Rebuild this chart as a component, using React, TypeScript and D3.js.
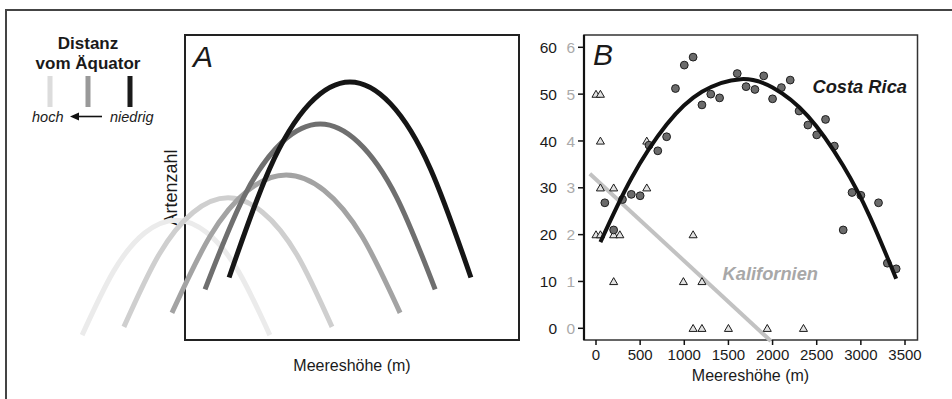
import React from "react";
import * as d3 from "d3";

// ---------- Panel A: schematic richness curves (relative units 0..100) ----------
const A_LIGHTEST: [number, number][] = [[-30.8, 1.6], [-21.4, 22.5], [-12.1, 35.1], [-2.7, 39.3], [6.7, 35.1], [16.0, 22.5], [25.4, 1.6]];
const A_LIGHT: [number, number][] = [[-18.3, 4.3], [-7.9, 27.8], [2.5, 41.9], [12.9, 46.6], [23.2, 41.9], [33.6, 27.8], [44.0, 4.3]];
const A_MID: [number, number][] = [[-3.9, 8.9], [7.5, 34.0], [18.9, 49.1], [30.3, 54.1], [41.6, 49.1], [53.0, 34.0], [64.4, 8.9]];
const A_DARK: [number, number][] = [[6.0, 16.6], [17.5, 46.7], [29.0, 64.8], [40.5, 70.8], [51.9, 64.8], [63.4, 46.7], [74.9, 16.6]];
const A_BLACK: [number, number][] = [[13.2, 20.5], [25.3, 56.1], [37.3, 77.5], [49.4, 84.6], [61.5, 77.5], [73.5, 56.1], [85.6, 20.5]];
const A_CURVES = [A_LIGHTEST, A_LIGHT, A_MID, A_DARK, A_BLACK];
const A_COLORS = ["#ebebeb", "#cfcfcf", "#a3a3a3", "#6f6f6f", "#151515"];

// Legend bars (hoch -> niedrig)
const LEGEND_COLORS = ["#dcdcdc", "#999999", "#1a1a1a"];

// ---------- Panel B: Costa Rica (left axis) ----------
const CR_ELEV = [100, 200, 300, 400, 500, 600, 700, 800, 900, 1000, 1100, 1200, 1300, 1400, 1600, 1700, 1800, 1900, 2000, 2100, 2200, 2300, 2400, 2500, 2600, 2700, 2800, 2900, 3000, 3200, 3300, 3400];
const CR_SPECIES = [26.8, 21.0, 27.5, 28.6, 28.3, 39.1, 37.9, 40.9, 51.2, 56.2, 57.9, 47.7, 50.0, 49.2, 54.4, 51.6, 51.0, 53.9, 49.0, 51.4, 53.0, 46.4, 43.4, 41.3, 44.6, 38.9, 21.0, 29.0, 28.4, 26.8, 13.9, 12.7];
const CR_FIT_ELEV = [50, 400, 800, 1200, 1640, 2000, 2400, 2800, 3100, 3400];
const CR_FIT_SPECIES = [18.4, 32.0, 43.5, 50.5, 53.2, 51.4, 45.3, 34.7, 23.9, 10.6];

// ---------- Panel B: Kalifornien (right-hand grey scale) ----------
const KA_ELEV = [0, 50, 50, 575, 50, 200, 575, 0, 50, 200, 270, 1100, 200, 990, 1200, 1100, 1200, 1500, 1940, 2350];
const KA_SPECIES = [5, 5, 4, 4, 3, 3, 3, 2, 2, 2, 2, 2, 1, 1, 1, 0, 0, 0, 0, 0];
const KA_FIT_ELEV = [-70, 1980];
const KA_FIT_SPECIES = [3.3, -0.27];

const X_TICKS = [0, 500, 1000, 1500, 2000, 2500, 3000, 3500];
const Y_TICKS = [0, 10, 20, 30, 40, 50, 60];
const Y2_TICKS = [0, 1, 2, 3, 4, 5, 6];

const FONT = "'Liberation Sans', Arial, Helvetica, sans-serif";

export default function App() {
  // Panel A geometry
  const aLeft = 185, aRight = 519, aTop = 35, aBottom = 340;
  const ax = d3.scaleLinear().domain([0, 100]).range([aLeft, aRight]);
  const ay = d3.scaleLinear().domain([0, 100]).range([aBottom, aTop]);
  const aLine = d3
    .line<[number, number]>()
    .x((d) => ax(d[0]))
    .y((d) => ay(d[1]))
    .curve(d3.curveNatural);

  // Panel B geometry
  const bLeft = 584, bRight = 917.5, bTop = 35, bBottom = 340;
  const bx = d3.scaleLinear().domain([0, 3500]).range([596, 905]);
  const by = d3.scaleLinear().domain([0, 60]).range([328.3, 47.3]);
  const by2 = d3.scaleLinear().domain([0, 6]).range([328.3, 47.3]);

  const crFit = d3
    .line<number>()
    .x((_, i) => bx(CR_FIT_ELEV[i]))
    .y((d) => by(d))
    .curve(d3.curveNatural)(CR_FIT_SPECIES);
  const kaFit = d3
    .line<number>()
    .x((_, i) => bx(KA_FIT_ELEV[i]))
    .y((d) => by2(d))(KA_FIT_SPECIES);
  const tri = d3.symbol().type(d3.symbolTriangle).size(28)();

  const legendX = [50, 88, 130];

  return (
    <svg
      width={952}
      height={399}
      style={{ position: "absolute", left: 0, top: 0, background: "#fff" }}
      fontFamily={FONT}
    >
      {/* outer frame */}
      <path d="M6,399 V10 H952" fill="none" stroke="#444" strokeWidth={2} />

      {/* ---- legend ---- */}
      <text x={88} y={49} textAnchor="middle" fontSize={17} fontWeight="bold" fill="#1a1a1a">Distanz</text>
      <text x={88} y={68.5} textAnchor="middle" fontSize={17} fontWeight="bold" fill="#1a1a1a">vom Äquator</text>
      {LEGEND_COLORS.map((c, i) => (
        <rect key={i} x={legendX[i] - 2.5} y={76} width={5} height={31} fill={c} />
      ))}
      <text x={32} y={121.5} fontSize={14.5} fontStyle="italic" fill="#1a1a1a">hoch</text>
      <line x1={102} y1={116.5} x2={76} y2={116.5} stroke="#111" strokeWidth={1.6} />
      <path d="M70,116.5 L79,112.5 L79,120.5 Z" fill="#111" />
      <text x={110} y={121.5} fontSize={14.5} fontStyle="italic" fill="#1a1a1a">niedrig</text>

      {/* ---- panel A ---- */}
      <rect x={aLeft} y={aTop} width={aRight - aLeft} height={aBottom - aTop} fill="none" stroke="#222" strokeWidth={2} />
      <text x={193} y={67} fontSize={30} fontStyle="italic" fill="#1a1a1a">A</text>
      <text
        transform={`translate(177,${(aTop + aBottom) / 2}) rotate(-90)`}
        textAnchor="middle"
        fontSize={18}
        fill="#1a1a1a"
      >
        Artenzahl
      </text>
      {A_CURVES.map((pts, i) => (
        <path key={i} d={aLine(pts) ?? ""} fill="none" stroke={A_COLORS[i]} strokeWidth={5} />
      ))}
      <text x={(aLeft + aRight) / 2} y={371} textAnchor="middle" fontSize={16} fill="#1a1a1a">Meereshöhe (m)</text>

      {/* ---- panel B ---- */}
      <rect x={bLeft} y={bTop} width={bRight - bLeft} height={bBottom - bTop} fill="none" stroke="#333" strokeWidth={1.5} />
      <line x1={bLeft} y1={bTop} x2={bLeft} y2={bBottom} stroke="#111" strokeWidth={2.2} />
      <text x={593} y={65} fontSize={30} fontStyle="italic" fill="#1a1a1a">B</text>

      {/* y axis ticks and labels */}
      {Y_TICKS.map((t, i) => (
        <g key={t}>
          <line x1={578} x2={bLeft} y1={by(t)} y2={by(t)} stroke="#111" strokeWidth={1.5} />
          <text x={557} y={by(t)} dy="0.36em" textAnchor="end" fontSize={15.5} fill="#1a1a1a">{t}</text>
          <text x={575} y={by2(Y2_TICKS[i])} dy="0.36em" textAnchor="end" fontSize={15.5} fill="#aaaaaa">{Y2_TICKS[i]}</text>
        </g>
      ))}
      {/* x axis ticks and labels */}
      {X_TICKS.map((t) => (
        <g key={t}>
          <line x1={bx(t)} x2={bx(t)} y1={bBottom} y2={bBottom + 5} stroke="#111" strokeWidth={1.5} />
          <text x={bx(t)} y={360} textAnchor="middle" fontSize={15} fill="#1a1a1a">{t}</text>
        </g>
      ))}
      <text x={(bx(0) + bx(3500)) / 2} y={381} textAnchor="middle" fontSize={16} fill="#1a1a1a">Meereshöhe (m)</text>

      {/* Kalifornien: fit line and triangles */}
      <path d={kaFit ?? ""} fill="none" stroke="#c2c2c2" strokeWidth={4} />
      {KA_ELEV.map((e, i) => (
        <path
          key={`k${i}`}
          d={tri ?? ""}
          transform={`translate(${bx(e)},${by2(KA_SPECIES[i]) + 0.8})`}
          fill="#e2e2e2"
          stroke="#1a1a1a"
          strokeWidth={1}
        />
      ))}

      {/* Costa Rica: circles and quadratic fit */}
      {CR_ELEV.map((e, i) => (
        <circle key={`c${i}`} cx={bx(e)} cy={by(CR_SPECIES[i])} r={3.9} fill="#6b6b6b" stroke="#1e1e1e" strokeWidth={1} />
      ))}
      <path d={crFit ?? ""} fill="none" stroke="#111" strokeWidth={4} />

      <text x={907} y={93} textAnchor="end" fontSize={18.3} fontWeight="bold" fontStyle="italic" fill="#1a1a1a">Costa Rica</text>
      <text x={818} y={280} textAnchor="end" fontSize={18.3} fontWeight="bold" fontStyle="italic" fill="#a8a8a8">Kalifornien</text>
    </svg>
  );
}
